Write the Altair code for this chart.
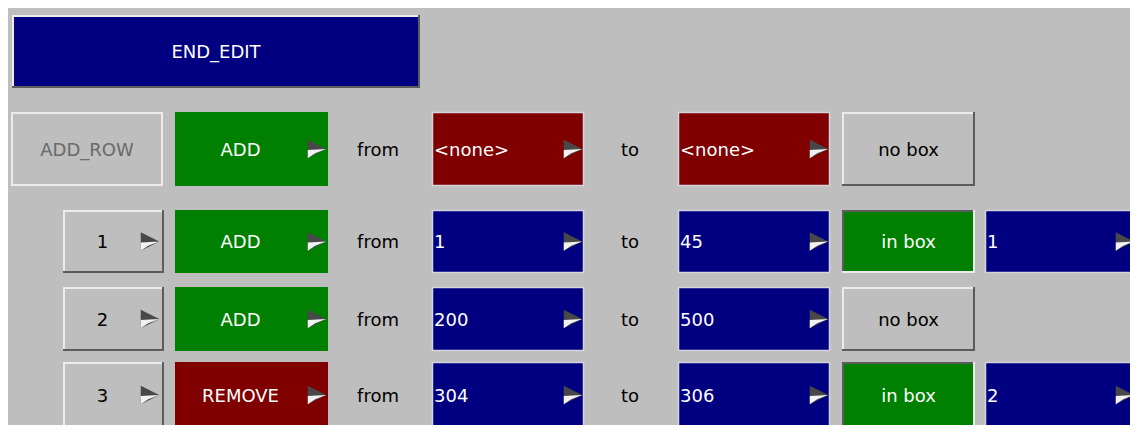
import altair as alt
import pandas as pd

# ---- layout grid (pixel edges) ----
col_names = ["wide", "addrow", "num", "op", "from", "to", "box", "extra"]
col_left = [12, 11, 63, 175, 432, 678, 842, 985]
col_right = [420, 163, 164, 328, 584, 830, 975, 1136]
row_names = ["head", "r0", "r1", "r2", "r3"]
row_top = [15, 112, 210, 287, 362]
row_bottom = [88, 186, 273, 351, 428]

# ---- widgets ----
w_text = ["END_EDIT",
          "ADD_ROW", "ADD", "<none>", "<none>", "no box",
          "1", "ADD", "1", "45", "in box", "1",
          "2", "ADD", "200", "500", "no box",
          "3", "REMOVE", "304", "306", "in box", "2"]
w_col = ["wide",
         "addrow", "op", "from", "to", "box",
         "num", "op", "from", "to", "box", "extra",
         "num", "op", "from", "to", "box",
         "num", "op", "from", "to", "box", "extra"]
w_row = ["head",
         "r0", "r0", "r0", "r0", "r0",
         "r1", "r1", "r1", "r1", "r1", "r1",
         "r2", "r2", "r2", "r2", "r2",
         "r3", "r3", "r3", "r3", "r3", "r3"]
w_style = ["command",
           "disabled", "green_menu", "red_field", "red_field", "toggle_off",
           "num_menu", "green_menu", "blue_field", "blue_field", "toggle_on", "blue_field",
           "num_menu", "green_menu", "blue_field", "blue_field", "toggle_off",
           "num_menu", "red_menu", "blue_field", "blue_field", "toggle_on", "blue_field"]

# static labels between the widgets
lbl_text = ["from", "to"] * 4
lbl_row = ["r0", "r0", "r1", "r1", "r2", "r2", "r3", "r3"]
lbl_x = [378, 630] * 4

BLUE, GREEN, RED, GRAY = "#000080", "#008000", "#800000", "#bebebe"
LIGHT, DARK, THIN = "#ececec", "#5c5c5c", "#d4d4dc"

# style -> fill, text colour, bevel, arrow offset (0 = none), alignment
styles = {
    "command":    (BLUE, "#ffffff", "raised", 0, "center"),
    "disabled":   (GRAY, "#6a6a6a", "light", 0, "center"),
    "green_menu": (GREEN, "#ffffff", "none", 11, "center"),
    "red_menu":   (RED, "#ffffff", "none", 11, "center"),
    "red_field":  (RED, "#ffffff", "thin", 11, "left"),
    "blue_field": (BLUE, "#ffffff", "thin", 11, "left"),
    "toggle_off": (GRAY, "#000000", "raised", 0, "center"),
    "toggle_on":  (GREEN, "#ffffff", "sunken", 0, "center"),
    "num_menu":   (GRAY, "#000000", "raised", 14, "center"),
}

cl = dict(zip(col_names, col_left))
cr = dict(zip(col_names, col_right))
rt = dict(zip(row_names, row_top))
rb = dict(zip(row_names, row_bottom))

boxes, edges, arrows, texts = [], [], [], []
for t, c, r, s in zip(w_text, w_col, w_row, w_style):
    fill, tcol, bevel, arr, align = styles[s]
    x0, x1, y0, y1 = cl[c], cr[c], rt[r], rb[r]
    ym = (y0 + y1) / 2
    boxes.append(dict(x=x0, x2=x1, y=y0, y2=y1, fill=fill))
    if bevel in ("raised", "sunken", "light"):
        tl = DARK if bevel == "sunken" else LIGHT
        br = LIGHT if bevel in ("sunken", "light") else DARK
        edges += [
            dict(x=x0, x2=x1, y=y0 + 1, y2=y0 + 1, c=tl, w=2),
            dict(x=x0 + 1, x2=x0 + 1, y=y0, y2=y1, c=tl, w=2),
            dict(x=x0, x2=x1, y=y1 - 1, y2=y1 - 1, c=br, w=2),
            dict(x=x1 - 1, x2=x1 - 1, y=y0, y2=y1, c=br, w=2),
        ]
    elif bevel == "thin":
        edges += [
            dict(x=x0, x2=x1, y=y0 + 0.5, y2=y0 + 0.5, c=THIN, w=1.5),
            dict(x=x0 + 0.5, x2=x0 + 0.5, y=y0, y2=y1, c=THIN, w=1.5),
            dict(x=x0, x2=x1, y=y1 - 0.5, y2=y1 - 0.5, c=THIN, w=1.5),
            dict(x=x1 - 0.5, x2=x1 - 0.5, y=y0, y2=y1, c=THIN, w=1.5),
        ]
    if arr:
        arrows.append(dict(x=x1 - arr, y=ym))
    if align == "left":
        texts.append(dict(x=x0 + 2, y=ym, t=t, c=tcol, a="left"))
    else:
        right = x1 - 22 if arr else x1
        texts.append(dict(x=(x0 + right) / 2, y=ym, t=t, c=tcol, a="center"))

for t, r, x in zip(lbl_text, lbl_row, lbl_x):
    texts.append(dict(x=x, y=(rt[r] + rb[r]) / 2, t=t, c="#000000", a="center"))

W, H = 1122, 417
xs = alt.Scale(domain=[8, 8 + W])
ys = alt.Scale(domain=[8, 8 + H], reverse=True)
X = lambda f: alt.X(f, type="quantitative", scale=xs, axis=None)
Y = lambda f: alt.Y(f, type="quantitative", scale=ys, axis=None)

box_layer = alt.Chart(pd.DataFrame(boxes)).mark_rect(clip=True).encode(
    x=X("x"), x2="x2", y=Y("y"), y2="y2",
    color=alt.Color("fill:N", scale=None))

edge_layer = alt.Chart(pd.DataFrame(edges)).mark_rule(clip=True).encode(
    x=X("x"), x2="x2", y=Y("y"), y2="y2",
    color=alt.Color("c:N", scale=None),
    strokeWidth=alt.StrokeWidth("w:Q", scale=None))

adf = pd.DataFrame(arrows)
arrow_dark = alt.Chart(adf).mark_point(
    shape="M -1 -1 L 1 0 L -1 1 Z", filled=True, size=340, opacity=1,
    color="#484848", strokeWidth=0, clip=True).encode(x=X("x"), y=Y("y"))
arrow_light = alt.Chart(adf).mark_point(
    shape="M -1 0.1 L 1 0 L -0.2 0.45 L -1 1 Z", filled=True, size=340, opacity=1,
    color="#f2f2f2", strokeWidth=0, clip=True).encode(x=X("x"), y=Y("y"))

tdf = pd.DataFrame(texts)
def text_layer(al):
    return alt.Chart(tdf[tdf.a == al]).mark_text(
        align=al, baseline="middle", font="DejaVu Sans", fontSize=18, dy=1.5, clip=True
    ).encode(x=X("x"), y=Y("y"), text="t:N", color=alt.Color("c:N", scale=None))

chart = alt.layer(
    box_layer, edge_layer, arrow_dark, arrow_light,
    text_layer("center"), text_layer("left")
).properties(
    width=W, height=H, padding=0, background=GRAY,
    autosize=alt.AutoSizeParams(type="none")
).configure_view(stroke=None)

chart.save("out.html", embed_options={"renderer": "svg", "actions": False})
